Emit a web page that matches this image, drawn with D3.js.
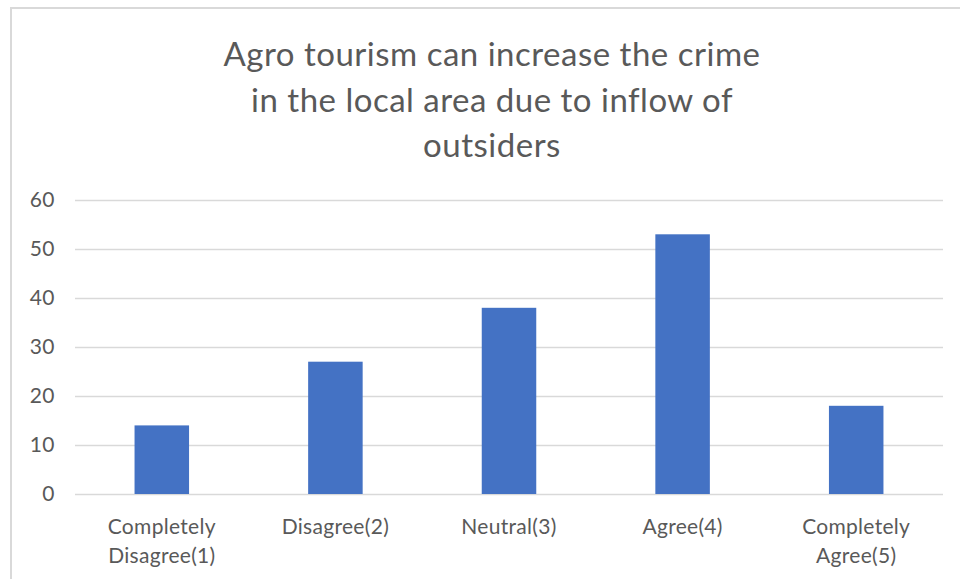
<!DOCTYPE html>
<html>
<head>
<meta charset="utf-8">
<script src="https://cdn.jsdelivr.net/npm/d3@7"></script>
<style>
  html, body { margin: 0; padding: 0; background: #fff; }
  svg { display: block; font-family: Lato, "Open Sans", sans-serif; }
</style>
</head>
<body>
<svg id="chart" width="960" height="579"></svg>
<script>
// Survey responses per agreement level
const categories = [
  ["Completely", "Disagree(1)"],
  ["Disagree(2)"],
  ["Neutral(3)"],
  ["Agree(4)"],
  ["Completely", "Agree(5)"]
];
const values = [14, 27, 38, 53, 18];
const yTicks = [0, 10, 20, 30, 40, 50, 60];
const titleLines = [
  "Agro tourism can increase the crime",
  "in the local area due to inflow of",
  "outsiders"
];

const svg = d3.select("#chart");
const W = 960, H = 579;
const plot = { left: 75, right: 943, top: 200, bottom: 494 };
const textColor = "#595959";

// Outer chart frame
svg.append("rect")
  .attr("x", 11).attr("y", 8)
  .attr("width", W).attr("height", H)
  .attr("fill", "#fff")
  .attr("stroke", "#d9d9d9").attr("stroke-width", 2);

// Title
svg.append("g").selectAll("text")
  .data(titleLines)
  .join("text")
  .attr("x", 492)
  .attr("y", (d, i) => 66 + i * 45.5)
  .attr("text-anchor", "middle")
  .attr("font-size", 33)
  .attr("letter-spacing", 0.5)
  .attr("fill", textColor)
  .text(d => d);

const x = d3.scaleBand()
  .domain(d3.range(categories.length))
  .range([plot.left, plot.right])
  .paddingInner(0.686)
  .paddingOuter(0.343);

const y = d3.scaleLinear()
  .domain([0, 60])
  .range([plot.bottom, plot.top]);

// Horizontal gridlines
svg.append("g")
  .attr("transform", `translate(${plot.left},0)`)
  .call(d3.axisLeft(y).tickValues(yTicks).tickSize(-(plot.right - plot.left)).tickFormat(""))
  .call(g => g.select(".domain").remove())
  .call(g => g.selectAll("line").attr("stroke", "#d9d9d9").attr("stroke-width", 1.5));

// Y tick labels
svg.append("g").selectAll("text")
  .data(yTicks)
  .join("text")
  .attr("x", 55)
  .attr("y", d => y(d))
  .attr("dy", "0.35em")
  .attr("text-anchor", "end")
  .attr("font-size", 21)
  .attr("letter-spacing", 0.5)
  .attr("fill", textColor)
  .text(d => d);

// Bars
svg.append("g").selectAll("rect")
  .data(values)
  .join("rect")
  .attr("x", (d, i) => x(i))
  .attr("width", x.bandwidth())
  .attr("y", d => y(d))
  .attr("height", d => y(0) - y(d))
  .attr("fill", "#4472c4");

// Category labels
const catG = svg.append("g").selectAll("text")
  .data(categories)
  .join("text")
  .attr("text-anchor", "middle")
  .attr("font-size", 21)
  .attr("letter-spacing", 0.3)
  .attr("fill", textColor);
catG.selectAll("tspan")
  .data((d, i) => d.map(line => ({ line, i })))
  .join("tspan")
  .attr("x", d => x(d.i) + x.bandwidth() / 2)
  .attr("y", (d, j) => 534 + j * 29)
  .text(d => d.line);
</script>
</body>
</html>
